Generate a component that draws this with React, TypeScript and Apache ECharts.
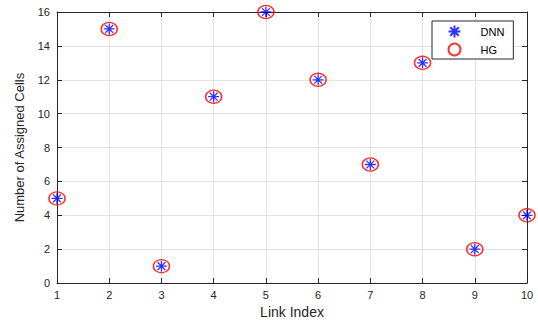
import React, { useEffect, useRef } from "react";
import * as echarts from "echarts";

const linkIndex = [1, 2, 3, 4, 5, 6, 7, 8, 9, 10];
const dnnCells = [5, 15, 1, 11, 16, 12, 7, 13, 2, 4];
const hgCells = [5, 15, 1, 11, 16, 12, 7, 13, 2, 4];
const seriesNames = ["DNN", "HG"];
const xTitle = "Link Index";
const yTitle = "Number of Assigned Cells";

const STAR = "path://M0,-10L0,10M-10,0L10,0M-7.07,-7.07L7.07,7.07M-7.07,7.07L7.07,-7.07";

export default function App() {
  const ref = useRef<HTMLDivElement>(null);
  useEffect(() => {
    const chart = echarts.init(ref.current!, null, { renderer: "svg" });
    const font = "'Liberation Sans', Arial, Helvetica, sans-serif";
    const axisColor = "#262626";
    const baseAxis = {
      axisLine: { show: true, onZero: false, lineStyle: { color: axisColor, width: 1 } },
      axisTick: { show: true, inside: true, length: 5, lineStyle: { color: axisColor } },
    };
    chart.setOption({
      animation: false,
      backgroundColor: "#ffffff",
      textStyle: { fontFamily: font },
      grid: { left: 57, right: 11, top: 12, bottom: 35 },
      legend: {
        orient: "vertical",
        left: 432,
        top: 21,
        padding: [2, 9, 1, 14],
        itemWidth: 22,
        itemHeight: 12,
        itemGap: 1,
        borderColor: axisColor,
        borderWidth: 1,
        backgroundColor: "#ffffff",
        textStyle: { fontFamily: font, fontSize: 11, color: "#000", padding: [0, 0, 0, 10] },
        data: seriesNames,
      },
      xAxis: [
        {
          type: "value",
          min: 1,
          max: 10,
          interval: 1,
          position: "bottom",
          name: xTitle,
          nameLocation: "middle",
          nameGap: 20,
          nameTextStyle: { fontFamily: font, fontSize: 14, color: axisColor },
          axisLabel: { fontFamily: font, fontSize: 11, color: axisColor, margin: 6 },
          splitLine: { show: true, lineStyle: { color: "#e3e3e3", width: 1 } },
          ...baseAxis,
        },
        {
          type: "value",
          min: 1,
          max: 10,
          interval: 1,
          position: "top",
          axisLabel: { show: false },
          splitLine: { show: false },
          ...baseAxis,
        },
      ],
      yAxis: [
        {
          type: "value",
          min: 0,
          max: 16,
          interval: 2,
          position: "left",
          name: yTitle,
          nameLocation: "middle",
          nameGap: 31,
          nameTextStyle: { fontFamily: font, fontSize: 13, color: axisColor },
          axisLabel: { fontFamily: font, fontSize: 11, color: axisColor, margin: 7 },
          splitLine: { show: true, lineStyle: { color: "#e3e3e3", width: 1 } },
          ...baseAxis,
        },
        {
          type: "value",
          min: 0,
          max: 16,
          interval: 2,
          position: "right",
          axisLabel: { show: false },
          splitLine: { show: false },
          ...baseAxis,
        },
      ],
      series: [
        {
          name: "HG",
          type: "scatter",
          symbol: "circle",
          symbolSize: [16, 13],
          itemStyle: { color: "none", borderColor: "#ff0000", borderWidth: 1.5 },
          data: linkIndex.map((x, i) => [x, hgCells[i]]),
          z: 2,
        },
        {
          name: "DNN",
          type: "scatter",
          symbol: STAR,
          symbolSize: 11,
          symbolKeepAspect: true,
          itemStyle: { color: "none", borderColor: "#0000ff", borderWidth: 1.3 },
          data: linkIndex.map((x, i) => [x, dnnCells[i]]),
          z: 3,
        },
      ],
    });
    return () => chart.dispose();
  }, []);
  return (
    <div
      ref={ref}
      style={{ position: "fixed", left: 0, top: 0, width: 538, height: 324 }}
    />
  );
}
